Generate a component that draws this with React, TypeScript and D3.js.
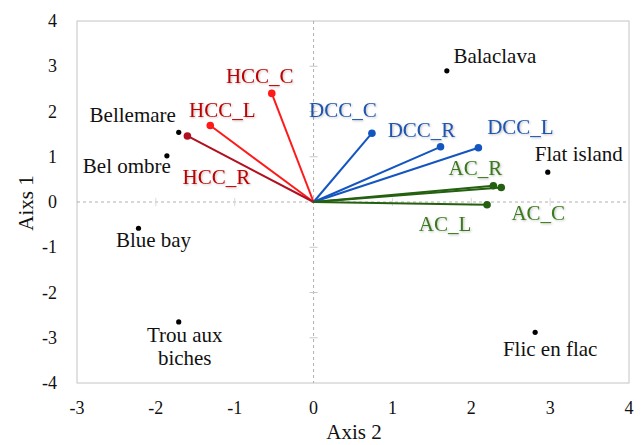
import React from "react";
import * as d3 from "d3";

// sites (scores)
const siteNames = ["Balaclava", "Flat island", "Bellemare", "Bel ombre", "Blue bay", "Trou aux|biches", "Flic en flac"];
const siteAxis2 = [1.69, 2.97, -1.71, -1.86, -2.22, -1.71, 2.81];
const siteAxis1 = [2.9, 0.66, 1.54, 1.02, -0.58, -2.65, -2.88];

// variables (loadings)
const varNames = ["HCC_C", "HCC_L", "HCC_R", "DCC_C", "DCC_R", "DCC_L", "AC_R", "AC_C", "AC_L"];
const varAxis2 = [-0.53, -1.31, -1.6, 0.74, 1.61, 2.09, 2.28, 2.38, 2.2];
const varAxis1 = [2.4, 1.69, 1.46, 1.52, 1.22, 1.2, 0.36, 0.32, -0.06];
const varGroup = ["HCC", "HCC", "HCCR", "DCC", "DCC", "DCC", "AC", "AC", "AC"];

const xTicks = [-3, -2, -1, 0, 1, 2, 3, 4];
const yTicks = [-4, -3, -2, -1, 0, 1, 2, 3, 4];

const lineColor: Record<string, string> = { HCC: "#ff1a1a", HCCR: "#b01020", DCC: "#1456c0", AC: "#246010" };
const textColor: Record<string, string> = { HCC: "#c00000", HCCR: "#c00000", DCC: "#1f55b0", AC: "#3a7a1c" };

// label offsets (px) from the point: [dx, dy], text-anchor middle
const siteLabelOff: [number, number][] = [
  [48, -8], [31, -11], [-46, -10], [-40, 17], [15, 19], [6, 20], [15, 24],
];
const varLabelOff: [number, number][] = [
  [-12, -10], [12, -9], [29, 48], [-29, -16], [-19, -10], [42, -14], [-18, -11], [37, 32], [-42, 26],
];

const W = 642;
const H = 445;
const m = { left: 77, right: 629, top: 21, bottom: 383 };
const FONT = "Liberation Serif";

export default function App() {
  const x = d3.scaleLinear().domain([-3, 4]).range([m.left, m.right]);
  const y = d3.scaleLinear().domain([-4, 4]).range([m.bottom, m.top]);
  const x0 = x(0);
  const y0 = y(0);

  return (
    <svg width={W} height={H} style={{ position: "absolute", left: 0, top: 0, background: "#fff" }}>
      <g fontFamily={FONT}>
      {/* plot border */}
      <rect x={m.left} y={m.top} width={m.right - m.left} height={m.bottom - m.top} fill="none" stroke="#c4c4c4" strokeWidth={1} />

      {/* zero lines */}
      <line x1={m.left} x2={m.right} y1={y0} y2={y0} stroke="#b0b0b0" strokeDasharray="3,3" />
      <line x1={x0} x2={x0} y1={m.top} y2={m.bottom} stroke="#b0b0b0" strokeDasharray="3,3" />
      {yTicks.filter((t) => t !== 0 && Math.abs(t) !== 4).map((t) => (
        <line key={"yt" + t} x1={x0 - 4} x2={x0 + 4} y1={y(t)} y2={y(t)} stroke="#c8c8c8" />
      ))}
      {xTicks.filter((t) => t !== 0 && t !== -3 && t !== 4).map((t) => (
        <line key={"xt" + t} x1={x(t)} x2={x(t)} y1={y0 - 4} y2={y0 + 4} stroke="#d8d8d8" />
      ))}

      {/* tick labels */}
      {yTicks.map((t) => (
        <text key={"yl" + t} x={57} y={y(t) + 6} textAnchor="end" fontSize={18} fill="#111">
          {t}
        </text>
      ))}
      {xTicks.map((t) => (
        <text key={"xl" + t} x={x(t)} y={414} textAnchor="middle" fontSize={18} fill="#111">
          {t}
        </text>
      ))}

      {/* axis titles */}
      <text x={354} y={439} textAnchor="middle" fontSize={21} fill="#111">Axis 2</text>
      <text transform={`translate(33,203) rotate(-90)`} textAnchor="middle" fontSize={21} fill="#111">Aixs 1</text>

      {/* vectors */}
      {varNames.map((n, i) => {
        const px = x(varAxis2[i]);
        const py = y(varAxis1[i]);
        const g = varGroup[i];
        return (
          <g key={n}>
            <line x1={x0} y1={y0} x2={px} y2={py} stroke={lineColor[g]} strokeWidth={2} />
            <circle cx={px} cy={py} r={3.8} fill={lineColor[g]} />
          </g>
        );
      })}
      {varNames.map((n, i) => {
        const px = x(varAxis2[i]);
        const py = y(varAxis1[i]);
        return (
          <text key={"vl" + n} x={px + varLabelOff[i][0]} y={py + varLabelOff[i][1]} textAnchor="middle" fontSize={21}
            fill={textColor[varGroup[i]]} style={{ filter: "drop-shadow(1px 1px 1px rgba(0,0,0,0.25))" }}>
            {n}
          </text>
        );
      })}

      {/* sites */}
      {siteNames.map((n, i) => {
        const px = x(siteAxis2[i]);
        const py = y(siteAxis1[i]);
        const lines = n.split("|");
        return (
          <g key={n}>
            <circle cx={px} cy={py} r={2.6} fill="#000" />
            {lines.map((l, j) => (
              <text key={l} x={px + siteLabelOff[i][0]} y={py + siteLabelOff[i][1] + j * 23} textAnchor="middle" fontSize={21} fill="#111">
                {l}
              </text>
            ))}
          </g>
        );
      })}
      </g>
    </svg>
  );
}
